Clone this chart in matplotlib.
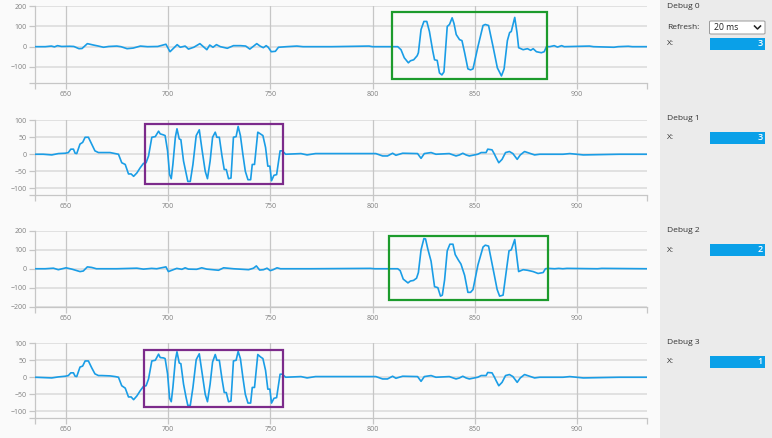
import matplotlib
matplotlib.use("Agg")
import matplotlib.pyplot as plt
from matplotlib.patches import Rectangle, FancyBboxPatch
from matplotlib.lines import Line2D

W, H = 772, 438

# ---------------------------------------------------------------
# Signal data (sample index -> value), one polyline per debug channel
# ---------------------------------------------------------------
debug0_x = [635, 640, 643, 644.5, 646, 648, 652, 654, 656.5, 658, 660.6, 663.6, 666, 668.5, 671,
            675, 677, 680, 683, 686.5, 690, 695, 699, 701, 704.5, 706, 708.4, 710, 712.6, 715.6,
            719, 720.4, 722, 723.7, 725.6, 729, 732, 735.5, 738, 740, 743.4, 745, 746.6, 748, 749,
            750.5, 752.5, 754, 758, 763, 766, 780, 798.3, 800, 812.3, 813.9, 815.5, 817.5, 818.5,
            820.1, 821.8, 822.4, 823.7, 825.1, 826.5, 827.8, 829.4, 830.3, 831.6, 832.7, 833.9,
            834.9, 836.5, 837.6, 838.9, 839.8, 840.9, 842.5, 843.7, 845, 846.6, 847.9, 849.1,
            851.5, 854, 855.1, 856.7, 858.9, 861, 863, 864.3, 865.9, 867, 867.8, 869.5, 870.6,
            871.4, 873.6, 875.7, 877.3, 878.5, 880.1, 882.5, 883.9, 885, 886.6, 888.8, 890.4,
            892.4, 893.7, 906, 908, 918, 920, 925, 927, 934]
debug0_y = [0, 0, 3, -1, 5, 1, 2, 1, -10, -9, 15, 8, 3, -3, 1,
            3, 0, -10, -7, 3, 0, 1, 12, -25, 10, -3, 3, -12, -3, 15,
            -15, 8, -3, 10, 0, -8, 5, 5, 3, -12, 15, 3, -5, 5, -3,
            -25, -23, -3, 0, 3, 0, 0, 3, 0, 0, -15, -55, -80, -70,
            -65, -45, -30, 85, 125, 125, 75, -20, -65, -68, -130, -140,
            -125, 100, 110, 143, 115, 60, 35, 30, -30, -110, -115, -110,
            0, 105, 110, 105, 0, -105, -145, -110, 30, 70, 75, 145, 70,
            -5, -15, -10, -18, -10, -25, -30, -25, 0, 0, 5, -2,
            5, 0, 3, 0, -3, 0, 2, 0, 0]

debug1_x = [635, 639, 643.2, 646.4, 649.8, 651.3, 652.5, 653.8, 654.6, 655.4, 657, 658.3, 659.5,
            661.1, 662.7, 664.3, 666, 667.6, 671.7, 674.2, 675.8, 677.4, 679.1, 680.7, 682, 683.2,
            684.8, 686.4, 688, 689.3, 690.5, 692.1, 693.8, 695.4, 696.2, 697.8, 698.6, 699.8,
            700.8, 701.6, 702.4, 703.6, 704.4, 705.5, 706.3, 707.6, 708.8, 709.7, 710.9, 712.2,
            713.8, 715.3, 716.6, 718.2, 719.3, 720.6, 721.8, 723.1, 723.9, 725.1, 726.4, 727.5,
            728.5, 729.6, 730.8, 732, 733.3, 734.3, 735.4, 736.6, 737.8, 739.1, 740.4, 741.2,
            742.3, 743.9, 745.2, 746.4, 747.7, 748.8, 749.8, 750.6, 751.8, 753.1, 754.8, 755.9,
            757.5, 765, 768, 772.1, 784.4, 801.6, 804.9, 807.3, 809.8, 811.4, 814.7, 822, 823.7,
            825.3, 828.6, 831, 837.5, 840.8, 842.5, 844.1, 845.7, 847.3, 851.4, 853.1, 855.5,
            856.3, 858.4, 859.6, 860.4, 861.7, 863.3, 865, 866.9, 868.6, 870.7, 872.2, 874.3,
            876.8, 879.2, 881.7, 893.1, 896.4, 903, 920.6, 934]
debug1_y = [0, 0, -2, 2, 3, 5, 15, 15, 3, 2, 30, 35, 50,
            50, 30, 10, 5, 5, 5, 2, 0, -25, -30, -58, -58, -65,
            -55, -40, -27, -25, -5, 50, 52, 68, 60, 57, 55, 10,
            -60, -72, -30, 50, 75, 45, 43, -20, -55, -80, -80, -30,
            55, 72, 15, -50, -72, -20, 50, 65, 50, 50, -5, -45,
            -45, -72, -70, 50, 52, 82, 55, 0, -50, -75, -75, -30,
            -30, 65, 60, 55, 20, -35, -35, -78, -62, -60, 10, 10,
            0, 2, -2, 2, 2, 2, -5, -5, 3, -3, 3, 2, -12,
            2, 5, 0, 2, -5, -2, 3, -2, -5, 0, 5, 5,
            15, 13, 0, -10, -25, -15, 5, 8, 2, -15, -2, 8,
            3, -2, 0, 0, 2, -2, 0, 0]

debug2_x = [635, 640, 644, 646.4, 650.2, 653, 657, 658.6, 660.6, 662.7, 665, 675, 684.8, 688, 692,
            694.5, 699, 700.2, 702.6, 704.3, 706.8, 708.4, 710, 714, 716.5, 719, 724.7, 727.2,
            732, 739.4, 741.8, 743.2, 744.8, 746.7, 748.4, 750, 751.4, 753.3, 755, 770, 799, 801,
            812.3, 813.5, 815, 817.3, 818.5, 820, 821.5, 822.4, 823.7, 825.1, 825.9, 827, 828.6,
            830.3, 831.9, 833.2, 834.1, 835.2, 836.5, 837.8, 839.3, 840.4, 842, 843.2, 845, 846.6,
            847.9, 849.1, 851.5, 854, 855.1, 856.7, 858.9, 860.9, 862.1, 863.8, 865.4, 866.7,
            867.8, 869.5, 870.6, 871.4, 873.6, 875.7, 878.5, 880.9, 883.4, 884.5, 885.8, 889,
            891, 893, 895, 910, 912, 934]
debug2_y = [0, 0, 3, -5, 5, -2, -15, -12, 10, 7, 0, 0, 3, -2, 2,
            0, 10, -15, -5, 2, -3, 5, -2, -3, 5, -2, -8, 5,
            0, -5, 3, 15, -7, -5, 3, -10, -5, 5, 0, 0, 2, 0,
            0, -10, -55, -75, -65, -62, -50, -20, 100, 160, 158, 105, 40,
            -95, -100, -145, -140, -60, 95, 130, 130, 75, 45, 25, -35, -125,
            -125, -110, 20, 115, 125, 120, 0, -110, -145, -140, -10, 95,
            100, 155, 55, -15, -5, -8, -15, -25, -20, 0, 2, 0,
            2, 0, 2, 0, 2, 0]

debug3_x = [635, 639, 643.2, 646.4, 649.8, 651.3, 652.5, 653.8, 654.6, 655.4, 657, 658.3, 659.5,
            661.1, 662.7, 664.3, 666, 667.6, 671.7, 674.2, 675.8, 677.4, 679.1, 680.7, 682, 683.2,
            684.8, 686.4, 688, 689.3, 690.5, 692.1, 693.8, 695.4, 696.2, 697.8, 698.6, 699.8,
            700.8, 701.6, 702.4, 703.6, 704.4, 705.5, 706.3, 707.6, 708.8, 709.7, 710.9, 712.2,
            713.8, 715.3, 716.6, 718.2, 719.3, 720.6, 721.8, 723.1, 723.9, 725.1, 726.4, 727.5,
            728.5, 729.6, 730.8, 732, 733.3, 734.3, 735.4, 736.6, 737.8, 739.1, 740.4, 741.2,
            742.3, 743.9, 745.2, 746.4, 747.7, 748.8, 749.8, 750.6, 751.8, 753.1, 754.8, 755.9,
            757.5, 765, 768, 772.1, 784.4, 801.6, 804.9, 807.3, 809.8, 811.4, 814.7, 822, 823.7,
            825.3, 828.6, 831, 837.5, 840.8, 842.5, 844.1, 845.7, 847.3, 851.4, 853.1, 855.5,
            856.3, 858.4, 859.6, 860.4, 861.7, 863.3, 865, 866.9, 868.6, 870.7, 872.2, 874.3,
            876.8, 879.2, 881.7, 893.1, 896.4, 903, 920.6, 934]
debug3_y = [0, -1, -2, 1, 3, 5, 13, 13, 3, 2, 30, 33, 48,
            48, 28, 10, 5, 5, 4, 2, 0, -25, -32, -58, -58, -66,
            -55, -40, -27, -25, -5, 48, 50, 68, 58, 57, 55, 10,
            -62, -72, -30, 50, 75, 42, 40, -20, -58, -83, -83, -30,
            52, 69, 15, -50, -72, -20, 45, 67, 50, 50, -5, -45,
            -45, -72, -70, 48, 50, 76, 55, 0, -50, -76, -76, -30,
            -30, 67, 60, 55, 20, -35, -35, -76, -62, -60, 9, 9,
            0, 2, -2, 2, 2, 2, -5, -5, 3, -3, 3, 2, -12,
            2, 5, 0, 2, -5, -2, 3, -2, -5, 0, 5, 5,
            14, 13, 0, -10, -25, -15, 5, 8, 2, -15, -2, 8,
            3, -2, 0, 0, 2, -2, 0, 0]

channel_names = ["Debug 0", "Debug 1", "Debug 2", "Debug 3"]
channel_values = [3, 3, 2, 1]
refresh_label = "20 ms"

xticks = [650, 700, 750, 800, 850, 900]
yticks_big = [-100, 0, 100, 200]
yticks_mid = [-100, -50, 0, 50, 100]
yticks_full = [-200, -100, 0, 100, 200]

# highlight boxes in data coords (x0, x1, y0, y1)
box0 = (809.4, 885.3, -160, 173)
box1 = (688.8, 756.2, -87, 90)
box2 = (808.2, 885.6, -165, 176)
box3 = (688.5, 756.0, -89, 80)

LINE_COLOR = "#1a9de6"
BAR_COLOR = "#0aa0e8"
GREEN = "#1c9b2c"
PURPLE = "#7c2b8b"

plt.rcParams["font.family"] = ["Open Sans", "DejaVu Sans"]

fig = plt.figure(figsize=(W / 100, H / 100), dpi=100, facecolor="#fafafa")


def px_rect(left, right, top, bottom):
    return [left / W, 1 - bottom / H, (right - left) / W, (bottom - top) / H]


def fx(x):
    return x / W


def fy(y):
    return 1 - y / H


# sidebar background
fig.patches.append(Rectangle((fx(660), 0), 1 - fx(660), 1, transform=fig.transFigure,
                             facecolor="#ebebeb", edgecolor="none", zorder=0))

panels = [
    (debug0_x, debug0_y, (6.3, 83.0), (-180, 200), yticks_big, box0, GREEN),
    (debug1_x, debug1_y, (120.3, 195.0), (-120, 100), yticks_mid, box1, PURPLE),
    (debug2_x, debug2_y, (231.0, 306.5), (-200, 200), yticks_full, box2, GREEN),
    (debug3_x, debug3_y, (343.3, 418.0), (-120, 100), yticks_mid, box3, PURPLE),
]

for xs, ys, (top, bottom), ylim, yticks, box, bcolor in panels:
    assert len(xs) == len(ys)
    ax = fig.add_axes(px_rect(35, 646.7, top, bottom))
    ax.set_facecolor("none")
    ax.set_xlim(635, 934)
    ax.set_ylim(*ylim)

    for yt in yticks:
        ax.axhline(yt, color="#dcdcdc", lw=1.2, zorder=1)
    for xt in xticks:
        ax.axvline(xt, color="#c6c6c6", lw=0.9, zorder=1)

    ax.plot(xs, ys, color=LINE_COLOR, lw=1.2, zorder=3, solid_joinstyle="round")

    x0, x1, y0, y1 = box
    ax.add_patch(Rectangle((x0, y0), x1 - x0, y1 - y0, fill=False, edgecolor=bcolor,
                           lw=1.6, zorder=4, clip_on=False))

    for side in ["top", "right"]:
        ax.spines[side].set_visible(False)
    for side in ["left", "bottom"]:
        ax.spines[side].set_color("#c6c6c6")
        ax.spines[side].set_linewidth(0.9)

    ax.set_xticks(xticks)
    ax.set_yticks(yticks)
    ax.set_xticks([635, 934], minor=True)
    ax.set_yticks([ylim[0]], minor=True)
    ax.tick_params(which="both", length=4, width=0.9, color="#c6c6c6",
                   labelsize=5, labelcolor="#808080", pad=1.8)

fig.text(0, 0, "")

# sidebar widgets
for i, (name, val) in enumerate(zip(channel_names, channel_values)):
    base = [0, 111.5, 223.3, 335.2][i]
    fig.text(fx(667), fy(base + 7), name, fontsize=6, color="#333333", va="center", ha="left")
    if i == 0:
        fig.text(fx(667), fy(27.5), "Refresh:", fontsize=6, color="#333333", va="center")
        fig.patches.append(FancyBboxPatch((fx(709.5), fy(34)), fx(765) - fx(709.5), fy(21) - fy(34),
                                          boxstyle="round,pad=0,rounding_size=0.002",
                                          transform=fig.transFigure, facecolor="white",
                                          edgecolor="#9a9a9a", lw=0.7))
        fig.text(fx(714), fy(27.3), refresh_label, fontsize=6.2, color="#222222", va="center")
        fig.lines.append(Line2D([fx(754.5), fx(757.5), fx(760.5)], [fy(26), fy(29), fy(26)],
                                transform=fig.transFigure, color="#222222", lw=1.1))
    bar_top = base + 37.5 + (0 if i == 0 else -5.5)
    if i == 0:
        bar_top = 37.5
    else:
        bar_top = [0, 132, 244, 355.7][i]
    text_y = bar_top + 6
    fig.text(fx(667), fy(text_y), "X:", fontsize=6, color="#333333", va="center")
    fig.patches.append(Rectangle((fx(709.5), fy(bar_top + 12)), fx(765) - fx(709.5),
                                 fy(bar_top) - fy(bar_top + 12), transform=fig.transFigure,
                                 facecolor=BAR_COLOR, edgecolor="none"))
    fig.text(fx(762.5), fy(text_y), str(val), fontsize=6.5, color="white",
             fontweight="semibold", va="center", ha="right")

fig.savefig("out.png", dpi=100, facecolor=fig.get_facecolor())
